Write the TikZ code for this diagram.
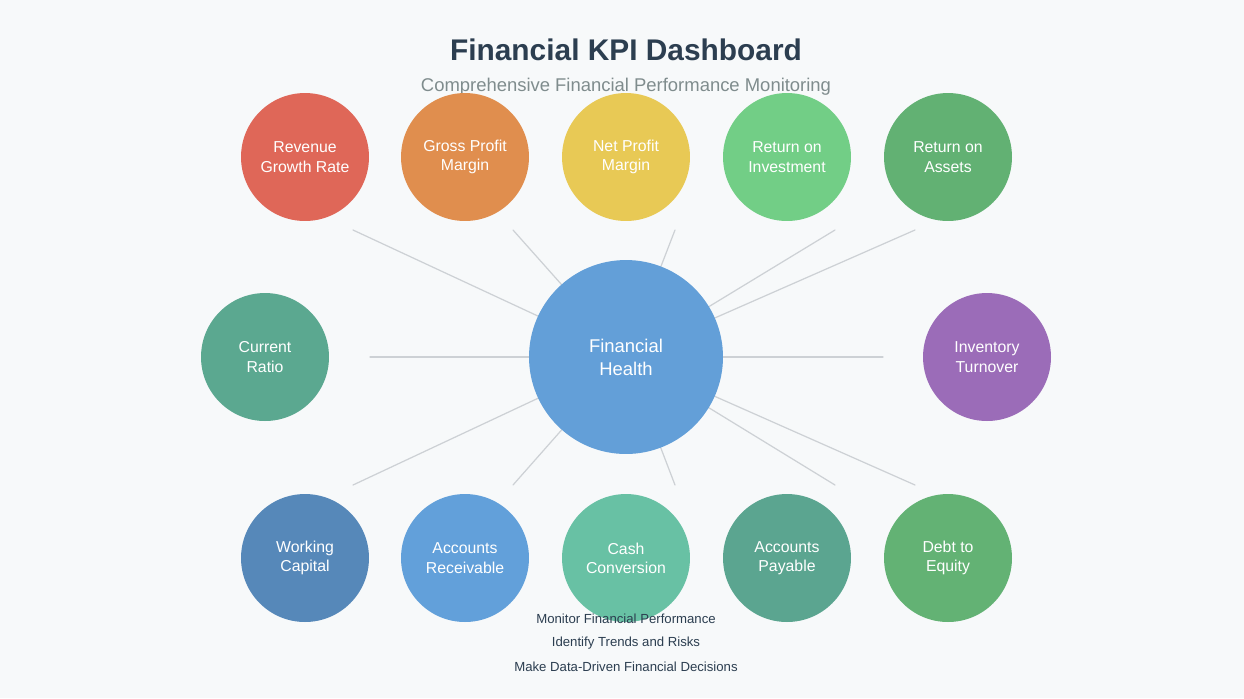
\documentclass[tikz,border=0pt]{standalone}
\usepackage{fontspec}
\setmainfont{Liberation Sans}
\usetikzlibrary{positioning}
\definecolor{bgc}{HTML}{F7F9FA}
\definecolor{titlec}{HTML}{2C3E50}
\definecolor{subc}{HTML}{7F8C8D}
\definecolor{linec}{HTML}{CDD1D5}
\definecolor{hub}{HTML}{639FD8}
\tikzset{kpi/.style={circle,minimum size=2.56cm,inner sep=0pt,align=center,text=white,font=\fontsize{9}{11}\selectfont},
  spoke/.style={draw=linec,line width=0.7pt}}

\begin{document}
\begin{tikzpicture}[x=0.02cm,y=-0.02cm,line cap=round]
\fill[bgc] (0,0) rectangle (1244,698);
\useasboundingbox (0,0) rectangle (1244,698);
\node[text=titlec,font=\bfseries\fontsize{17}{20}\selectfont] (title) at (626,50) {Financial KPI Dashboard};
\node[text=subc,font=\fontsize{10.5}{12}\selectfont] (sub) at (626,87) {Comprehensive Financial Performance Monitoring};

\coordinate (c) at (626,357);
% spoke ends
\foreach \n/\x/\y in {t1/353/230,t2/513/230,t3/675/230,t4/835/230,t5/915/230,
  m1/370/357,m2/883/357,b1/353/485,b2/513/485,b3/675/485,b4/835/485,b5/915/485}
  \coordinate (e\n) at (\x,\y);
\foreach \n in {t1,t2,t3,t4,t5,m1,m2,b1,b2,b3,b4,b5}
  \draw[spoke] (c) -- (e\n);

\node[kpi,fill=hub,minimum size=3.88cm,font=\fontsize{10.5}{13}\selectfont] (health) at (c) {Financial\\Health};

\foreach \n/\x/\y/\col/\txt in {
  rev/305/157/DF6758/{Revenue\\Growth Rate},
  gpm/465/157/E08E4E/{Gross Profit\\Margin},
  npm/626/157/E8C955/{Net Profit\\Margin},
  roi/787/157/72CE86/{Return on\\Investment},
  roa/948/157/62B173/{Return on\\Assets},
  cur/265/357/5BA890/{Current\\Ratio},
  inv/987/357/9B6CB8/{Inventory\\Turnover},
  wc/305/558/5688B9/{Working\\Capital},
  ar/465/558/62A0DA/{Accounts\\Receivable},
  cash/626/558/68C1A4/{Cash\\Conversion},
  ap/787/558/5BA590/{Accounts\\Payable},
  de/948/558/63B274/{Debt to\\Equity}}
  {\definecolor{kc}{HTML}{\col}
   \node[kpi,fill=kc] (\n) at (\x,\y) {\txt};}

\node[text=titlec,font=\fontsize{7.5}{9}\selectfont] (g1) at (626,619) {Monitor Financial Performance};
\node[text=titlec,font=\fontsize{7.5}{9}\selectfont] (g2) at (626,643) {Identify Trends and Risks};
\node[text=titlec,font=\fontsize{7.5}{9}\selectfont] (g3) at (626,667) {Make Data-Driven Financial Decisions};
\end{tikzpicture}
\end{document}
